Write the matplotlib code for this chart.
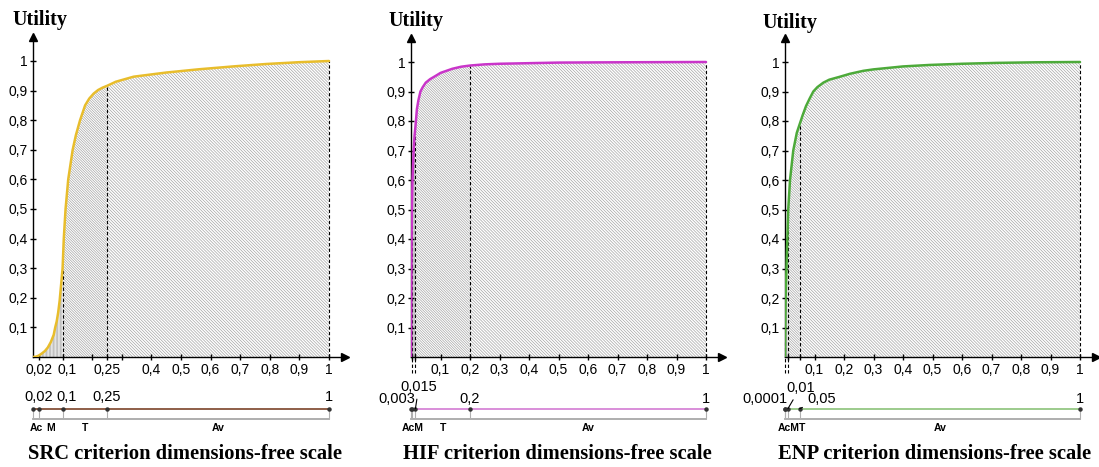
import numpy as np
import matplotlib.pyplot as plt
from matplotlib.transforms import ScaledTranslation

# values
src_x = [0, 0.01, 0.02, 0.03, 0.04, 0.05, 0.06, 0.07, 0.075, 0.08, 0.085, 0.09, 0.095,
         0.1, 0.104, 0.11, 0.119, 0.134, 0.145, 0.159, 0.176, 0.19, 0.205, 0.22, 0.235,
         0.25, 0.28, 0.34, 0.45, 0.56, 0.68, 0.79, 0.9, 1]
src_u = [0, 0.001, 0.005, 0.012, 0.02, 0.032, 0.05, 0.075, 0.1, 0.12, 0.15, 0.19, 0.245,
         0.3, 0.4, 0.5, 0.6, 0.7, 0.75, 0.8, 0.85, 0.873, 0.89, 0.902, 0.91,
         0.916, 0.93, 0.947, 0.961, 0.972, 0.982, 0.99, 0.996, 1]
src_edges = [0, 0.02, 0.1, 0.25, 1]
src_names = ["Ac", "M", "T", "Av"]

hif_x = [0, 0.001, 0.002, 0.003, 0.005, 0.009, 0.012, 0.015, 0.02, 0.025, 0.032, 0.04,
         0.05, 0.065, 0.082, 0.1, 0.14, 0.17, 0.2, 0.25, 0.3, 0.5, 0.7, 1]
hif_u = [0, 0.2, 0.4, 0.5, 0.6, 0.7, 0.75, 0.78, 0.84, 0.87, 0.9, 0.915,
         0.93, 0.942, 0.952, 0.963, 0.977, 0.984, 0.988, 0.992, 0.994, 0.998, 0.999, 1]
hif_edges = [0, 0.003, 0.015, 0.2, 1]
hif_names = ["Ac", "M", "T", "Av"]

enp_x = [0, 0.0001, 0.002, 0.005, 0.008, 0.011, 0.017, 0.028, 0.04, 0.05, 0.06, 0.071,
         0.083, 0.096, 0.11, 0.13, 0.15, 0.186, 0.22, 0.265, 0.3, 0.35, 0.4, 0.49, 0.6,
         0.72, 0.85, 1]
enp_u = [0, 0.05, 0.2, 0.3, 0.4, 0.5, 0.6, 0.7, 0.76, 0.79, 0.82, 0.85,
         0.875, 0.9, 0.915, 0.93, 0.94, 0.95, 0.96, 0.97, 0.975, 0.98, 0.985, 0.99, 0.994,
         0.997, 0.999, 1]
enp_edges = [0, 0.0001, 0.01, 0.05, 1]
enp_names = ["Ac", "M", "T", "Av"]

y_ticks = [0.1, 0.2, 0.3, 0.4, 0.5, 0.6, 0.7, 0.8, 0.9, 1]


def fmt(v):
    return ("%g" % v).replace(".", ",")


plt.rcParams['font.family'] = ['Liberation Sans', 'DejaVu Sans']
plt.rcParams['hatch.linewidth'] = 0.5

fig = plt.figure(figsize=(10.99, 4.67), dpi=100)
W, H = 1099.0, 467.0

panels = [
    dict(x=src_x, u=src_u, edges=src_edges, names=src_names, left=33, unit=296,
         color="#E8BD2C", scolor="#8E5E48", title="SRC criterion dimensions-free scale",
         major=[0.02, 0.1, 0.25, 0.4, 0.5, 0.6, 0.7, 0.8, 0.9, 1], minor=[0.2, 0.3],
         labels=[(0.02, 0, 12, "center"), (0.1, 4, 12, "center"), (0.25, 0, 12, "center"),
                 (1, 0, 12, "center")],
         util_x=12, util_y=20, tcx=185),
    dict(x=hif_x, u=hif_u, edges=hif_edges, names=hif_names, left=411, unit=295,
         color="#C935C9", scolor="#D98ED9", title="HIF criterion dimensions-free scale",
         major=[0.1, 0.2, 0.3, 0.4, 0.5, 0.6, 0.7, 0.8, 0.9, 1], minor=[0.003, 0.015],
         labels=[(0.003, 3, 10, "right"), (0.015, -15, 22, "left"), (0.2, 0, 10, "center"),
                 (1, 0, 10, "center")],
         util_x=388, util_y=21, tcx=557),
    dict(x=enp_x, u=enp_u, edges=enp_edges, names=enp_names, left=785, unit=295,
         color="#4DAA3A", scolor="#9CCB8C", title="ENP criterion dimensions-free scale",
         major=[0.1, 0.2, 0.3, 0.4, 0.5, 0.6, 0.7, 0.8, 0.9, 1], minor=[0.01, 0.05],
         labels=[(0.0001, 2, 10, "right"), (0.01, -2, 21, "left"), (0.05, 8, 10, "left"),
                 (1, 0, 10, "center")],
         util_x=762, util_y=23, tcx=935),
]

hatches = ['|' * 12, '\\' * 13, '\\' * 11]

for p in panels:
    x = np.array(p['x'])
    u = np.array(p['u'])
    edges = p['edges']
    ax = fig.add_axes([p['left'] / W, 110 / H, 1.055 * p['unit'] / W, 1.08 * p['unit'] / H])
    ax.set_xlim(0, 1.055)
    ax.set_ylim(0, 1.08)
    ax.patch.set_alpha(0)
    for s in ['top', 'right']:
        ax.spines[s].set_visible(False)
    ax.spines['left'].set_linewidth(1)
    ax.spines['bottom'].set_linewidth(1)
    ax.plot(1, 0, ">k", ms=6, transform=ax.get_yaxis_transform(), clip_on=False)
    ax.plot(0, 1, "^k", ms=6, transform=ax.get_xaxis_transform(), clip_on=False)

    # hatched areas under the curve
    for i in range(1, len(edges) - 1):
        a, b = edges[i], edges[i + 1]
        xs = np.concatenate([[a], x[(x > a) & (x < b)], [b]])
        us = np.interp(xs, x, u)
        ax.fill_between(xs, 0, us, facecolor='white', edgecolor='#a6a6a6',
                        hatch=hatches[i - 1], linewidth=0, zorder=1)

    for e in edges[1:]:
        ymin = -0.055 if e < 0.02 else 0
        ax.plot([e, e], [ymin, np.interp(e, x, u)], color='black', lw=0.8,
                dashes=(3, 2), clip_on=False, zorder=2)

    ax.plot(x, u, color=p['color'], lw=1.8, zorder=3, solid_capstyle='round',
            solid_joinstyle='round')

    ax.set_xticks(p['major'])
    ax.set_xticklabels([fmt(v) for v in p['major']])
    ax.set_xticks(p['minor'], minor=True)
    ax.set_yticks(y_ticks)
    ax.set_yticklabels([fmt(v) for v in y_ticks])
    ax.tick_params(direction='inout', length=5, width=1, labelsize=10, pad=1.5)
    ax.tick_params(axis='x', which='minor', direction='inout', length=5, width=1)
    for v, lab in zip(p['major'], ax.get_xticklabels()):
        if v == 0.1 and p['major'][0] < 0.1:
            lab.set_transform(lab.get_transform() +
                              ScaledTranslation(4 / 100, 0, fig.dpi_scale_trans))

    # dimension-free scale under the axis
    ax.plot([0, 1], [-0.175, -0.175], color=p['scolor'], lw=1.4, clip_on=False)
    ax.plot([0, 1], [-0.21, -0.21], color='#a8a8a8', lw=1.3, clip_on=False)
    ax.vlines(edges, -0.21, -0.175, color='#b0b0b0', lw=0.8, clip_on=False)
    ax.plot(edges, [-0.175] * len(edges), 'o', color='#333333', ms=2.2, clip_on=False)

    for e, dx, dy, ha in p['labels']:
        arrow = None
        if abs(dx) > 5 or dy > 15:
            arrow = dict(arrowstyle='-', color='black', lw=0.8, shrinkA=2, shrinkB=0)
        ax.annotate(fmt(e), xy=(e, -0.175), xytext=(dx, dy), textcoords='offset pixels',
                    ha=ha, va='center', fontsize=10.5, arrowprops=arrow,
                    annotation_clip=False)

    # segment names, tiny neighbours joined
    groups = []
    for i, n in enumerate(p['names']):
        a, b = edges[i], edges[i + 1]
        if groups and b - groups[-1][1] < 0.06 and groups[-1][1] - groups[-1][0] < 0.06:
            groups[-1] = (groups[-1][0], b, groups[-1][2] + n)
        else:
            groups.append((a, b, n))
    for a, b, n in groups:
        ax.text((a + b) / 2, -0.24, n, ha='center', va='center', fontsize=7.5,
                fontweight='bold')

    fig.text(p['util_x'] / W, 1 - p['util_y'] / H, "Utility", ha='left', va='center',
             fontsize=14.5, fontweight='bold', family='Liberation Serif')
    fig.text(p['tcx'] / W, 1 - 454 / H, p['title'], ha='center', va='center',
             fontsize=14.8, fontweight='bold', family='Liberation Serif')

plt.savefig('out.png', dpi=100)
